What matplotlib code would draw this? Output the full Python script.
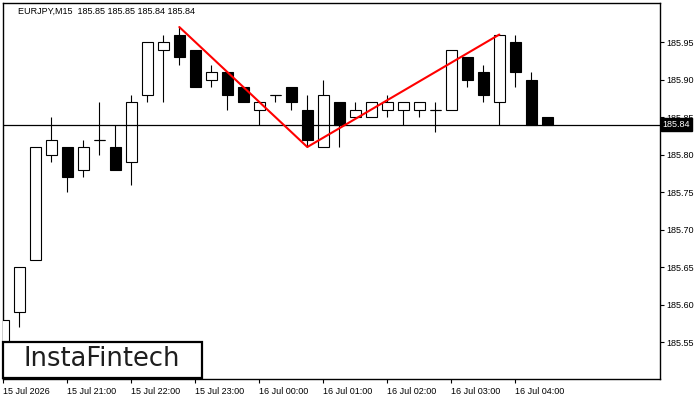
import matplotlib
matplotlib.use("Agg")
import matplotlib.pyplot as plt
from matplotlib.patches import Rectangle
from matplotlib.transforms import blended_transform_factory

# ---- data (EURJPY M15, 15-min candles starting 15 Jul 2026 20:00) ----
opens  = [185.53, 185.59, 185.66, 185.80, 185.81, 185.78, 185.82, 185.81, 185.79, 185.88,
          185.94, 185.96, 185.94, 185.90, 185.91, 185.89, 185.86, 185.88, 185.89, 185.86,
          185.81, 185.87, 185.85, 185.85, 185.86, 185.86, 185.86, 185.86, 185.86, 185.93,
          185.91, 185.87, 185.95, 185.90, 185.85]
highs  = [185.58, 185.65, 185.81, 185.85, 185.81, 185.82, 185.87, 185.84, 185.88, 185.95,
          185.96, 185.97, 185.94, 185.92, 185.91, 185.89, 185.87, 185.88, 185.89, 185.88,
          185.90, 185.87, 185.87, 185.87, 185.88, 185.87, 185.87, 185.87, 185.94, 185.93,
          185.92, 185.96, 185.96, 185.91, 185.85]
lows   = [185.50, 185.57, 185.66, 185.79, 185.75, 185.77, 185.80, 185.78, 185.76, 185.87,
          185.87, 185.92, 185.89, 185.89, 185.86, 185.87, 185.84, 185.87, 185.86, 185.81,
          185.81, 185.81, 185.85, 185.85, 185.85, 185.84, 185.85, 185.83, 185.86, 185.89,
          185.87, 185.84, 185.89, 185.84, 185.84]
closes = [185.58, 185.65, 185.81, 185.82, 185.77, 185.81, 185.82, 185.78, 185.87, 185.95,
          185.95, 185.93, 185.89, 185.91, 185.88, 185.87, 185.87, 185.88, 185.87, 185.82,
          185.88, 185.84, 185.86, 185.87, 185.87, 185.87, 185.87, 185.86, 185.94, 185.90,
          185.88, 185.96, 185.91, 185.84, 185.84]

current_price = 185.84
pattern_idx = [11, 19, 31]
pattern_price = [185.97, 185.81, 185.96]

xtick_idx = [0, 4, 8, 12, 16, 20, 24, 28, 32]
xtick_labels = ["15 Jul 2026", "15 Jul 21:00", "15 Jul 22:00", "15 Jul 23:00",
                "16 Jul 00:00", "16 Jul 01:00", "16 Jul 02:00", "16 Jul 03:00",
                "16 Jul 04:00"]
ytick_vals = [185.55, 185.60, 185.65, 185.70, 185.75, 185.80, 185.85, 185.90, 185.95]
title_text = "EURJPY,M15  185.85 185.85 185.84 185.84"
logo_text = "InstaFintech"

# ---- figure ----
plt.rcParams['font.family'] = ['Liberation Sans', 'DejaVu Sans']
W, H = 700, 400
fig = plt.figure(figsize=(7, 4), dpi=100)
fig.patch.set_facecolor('white')
ax = fig.add_axes([2.5 / W, 21 / H, 657 / W, 376.5 / H])

n = len(opens)
xs = list(range(n))
body_w = 0.66

# wicks
ax.vlines(xs, lows, highs, color='black', linewidth=0.8, zorder=2)
# bodies
bottoms = [min(o, c) for o, c in zip(opens, closes)]
heights = [abs(c - o) for o, c in zip(opens, closes)]
faces = ['white' if c > o else 'black' for o, c in zip(opens, closes)]
ax.bar(xs, heights, bottom=bottoms, width=body_w, color=faces,
       edgecolor='black', linewidth=0.8, zorder=3)
# doji dashes
for x, o, c in zip(xs, opens, closes):
    if o == c:
        ax.hlines(o, x - body_w / 2, x + body_w / 2, color='black', linewidth=0.8, zorder=3)

# current price line
ax.axhline(current_price, color='black', linewidth=0.9, zorder=4)

# pattern line
ax.plot(pattern_idx, pattern_price, color='#ff0000', linewidth=1.5, zorder=5,
        solid_capstyle='round')

ax.set_xlim(-0.05, 41.01)
ax.set_ylim(185.5007, 186.0027)

ax.yaxis.tick_right()
ax.set_yticks(ytick_vals)
ax.set_yticklabels([f"{v:.2f}" for v in ytick_vals])
ax.set_xticks(xtick_idx)
ax.set_xticklabels(xtick_labels, ha='left')
ax.tick_params(axis='both', direction='out', length=3, width=0.8, labelsize=6.5,
               colors='black', pad=2)
ax.tick_params(axis='x', pad=3)
for s in ax.spines.values():
    s.set_linewidth(1.0)
    s.set_color('black')

# title
ax.text(15.8 / 657, 1 - 8.5 / 376.5, title_text, transform=ax.transAxes,
        fontsize=6.5, color='black', ha='left', va='center', zorder=6)

# current price box
trans = blended_transform_factory(ax.transAxes, ax.transData)
ax.text(1.0 + 3 / 657, current_price, f"{current_price:.2f}", transform=trans,
        ha='left', va='center', fontsize=6.5, color='white', zorder=10,
        bbox=dict(boxstyle='square,pad=0.18', facecolor='black', edgecolor='black'),
        clip_on=False)

# logo box
rect = Rectangle((2.7 / W, (H - 378.3) / H), 199 / W, 36.6 / H,
                 transform=fig.transFigure, facecolor='white', edgecolor='black',
                 linewidth=1.6, zorder=10)
fig.add_artist(rect)
fig.text(102 / W, 1 - 359 / H, logo_text, ha='center', va='center',
         fontsize=18.5, color='#1e1e1e', family='DejaVu Sans', zorder=11)

fig.savefig("out.png", dpi=100, facecolor='white')
